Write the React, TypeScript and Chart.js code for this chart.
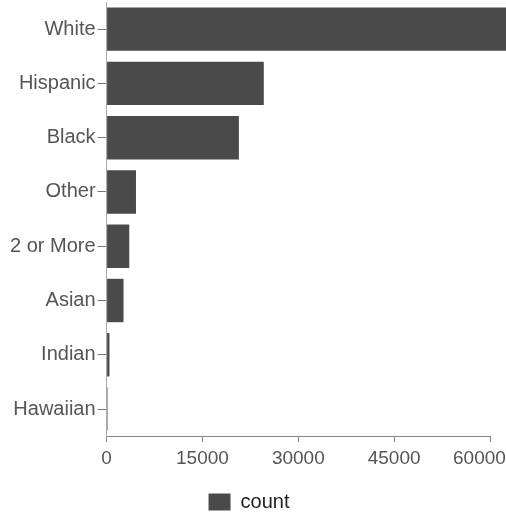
import React, { useEffect, useRef } from "react";
import { Chart, registerables } from "chart.js";

Chart.register(...registerables);

const categories = ["White", "Hispanic", "Black", "Other", "2 or More", "Asian", "Indian", "Hawaiian"];
const counts = [64000, 24600, 20700, 4600, 3550, 2650, 450, 150];
const xTicks = [0, 15000, 30000, 45000, 60000];
const seriesName = "count";

const legendShift = {
  id: "legendShift",
  afterLayout(chart: any) {
    if (chart.legend) {
      chart.legend.top += 9;
      chart.legend.bottom += 9;
    }
  },
};

export default function App() {
  const ref = useRef<HTMLCanvasElement | null>(null);
  useEffect(() => {
    if (!ref.current) return;
    const chart = new Chart(ref.current, {
      type: "bar",
      data: {
        labels: categories,
        datasets: [
          {
            label: seriesName,
            data: counts,
            backgroundColor: "#4a4a4a",
            borderWidth: 0,
            barPercentage: 0.8,
            categoryPercentage: 1.0,
            clip: false as any,
          },
        ],
      },
      plugins: [legendShift],
      options: {
        indexAxis: "y",
        animation: false,
        responsive: false,
        maintainAspectRatio: false,
        layout: { padding: { left: 8, right: 16, top: 2, bottom: 0 } },
        plugins: {
          tooltip: { enabled: false },
          legend: {
            position: "bottom",
            labels: {
              boxWidth: 22,
              boxHeight: 17,
              color: "#222",
              font: { family: "Liberation Sans", size: 20 },
              padding: 8,
            },
          },
        },
        scales: {
          x: {
            min: 0,
            max: 60000,
            afterBuildTicks: (scale: any) => {
              scale.ticks = xTicks.map((v) => ({ value: v }));
            },
            afterFit: (scale: any) => {
              scale.paddingRight = 0;
            },
            border: { display: true, color: "#888", width: 1 },
            grid: { display: true, drawOnChartArea: false, drawTicks: true, tickLength: 6, color: "#888" },
            ticks: {
              color: "#555",
              font: { family: "Liberation Sans", size: 19 },
              padding: 5,
              maxRotation: 0,
              autoSkip: false,
              callback: (v: any, i: number) => (i === xTicks.length - 1 ? String(v) + "    " : String(v)),
            },
          },
          y: {
            afterFit: (scale: any) => {
              scale.paddingTop = 0;
              scale.paddingBottom = 0;
            },
            border: { display: true, color: "#aaa", width: 1 },
            grid: { display: true, offset: false, drawOnChartArea: false, drawTicks: true, tickLength: 9, color: "#777" },
            ticks: {
              color: "#555",
              font: { family: "Liberation Sans", size: 20 },
              padding: 2,
              autoSkip: false,
            },
          },
        },
      },
    });
    return () => chart.destroy();
  }, []);
  return (
    <div style={{ position: "absolute", left: 0, top: 0, width: 506, height: 513 }}>
      <canvas ref={ref} width={506} height={513} style={{ display: "block", width: 506, height: 513 }} />
    </div>
  );
}
